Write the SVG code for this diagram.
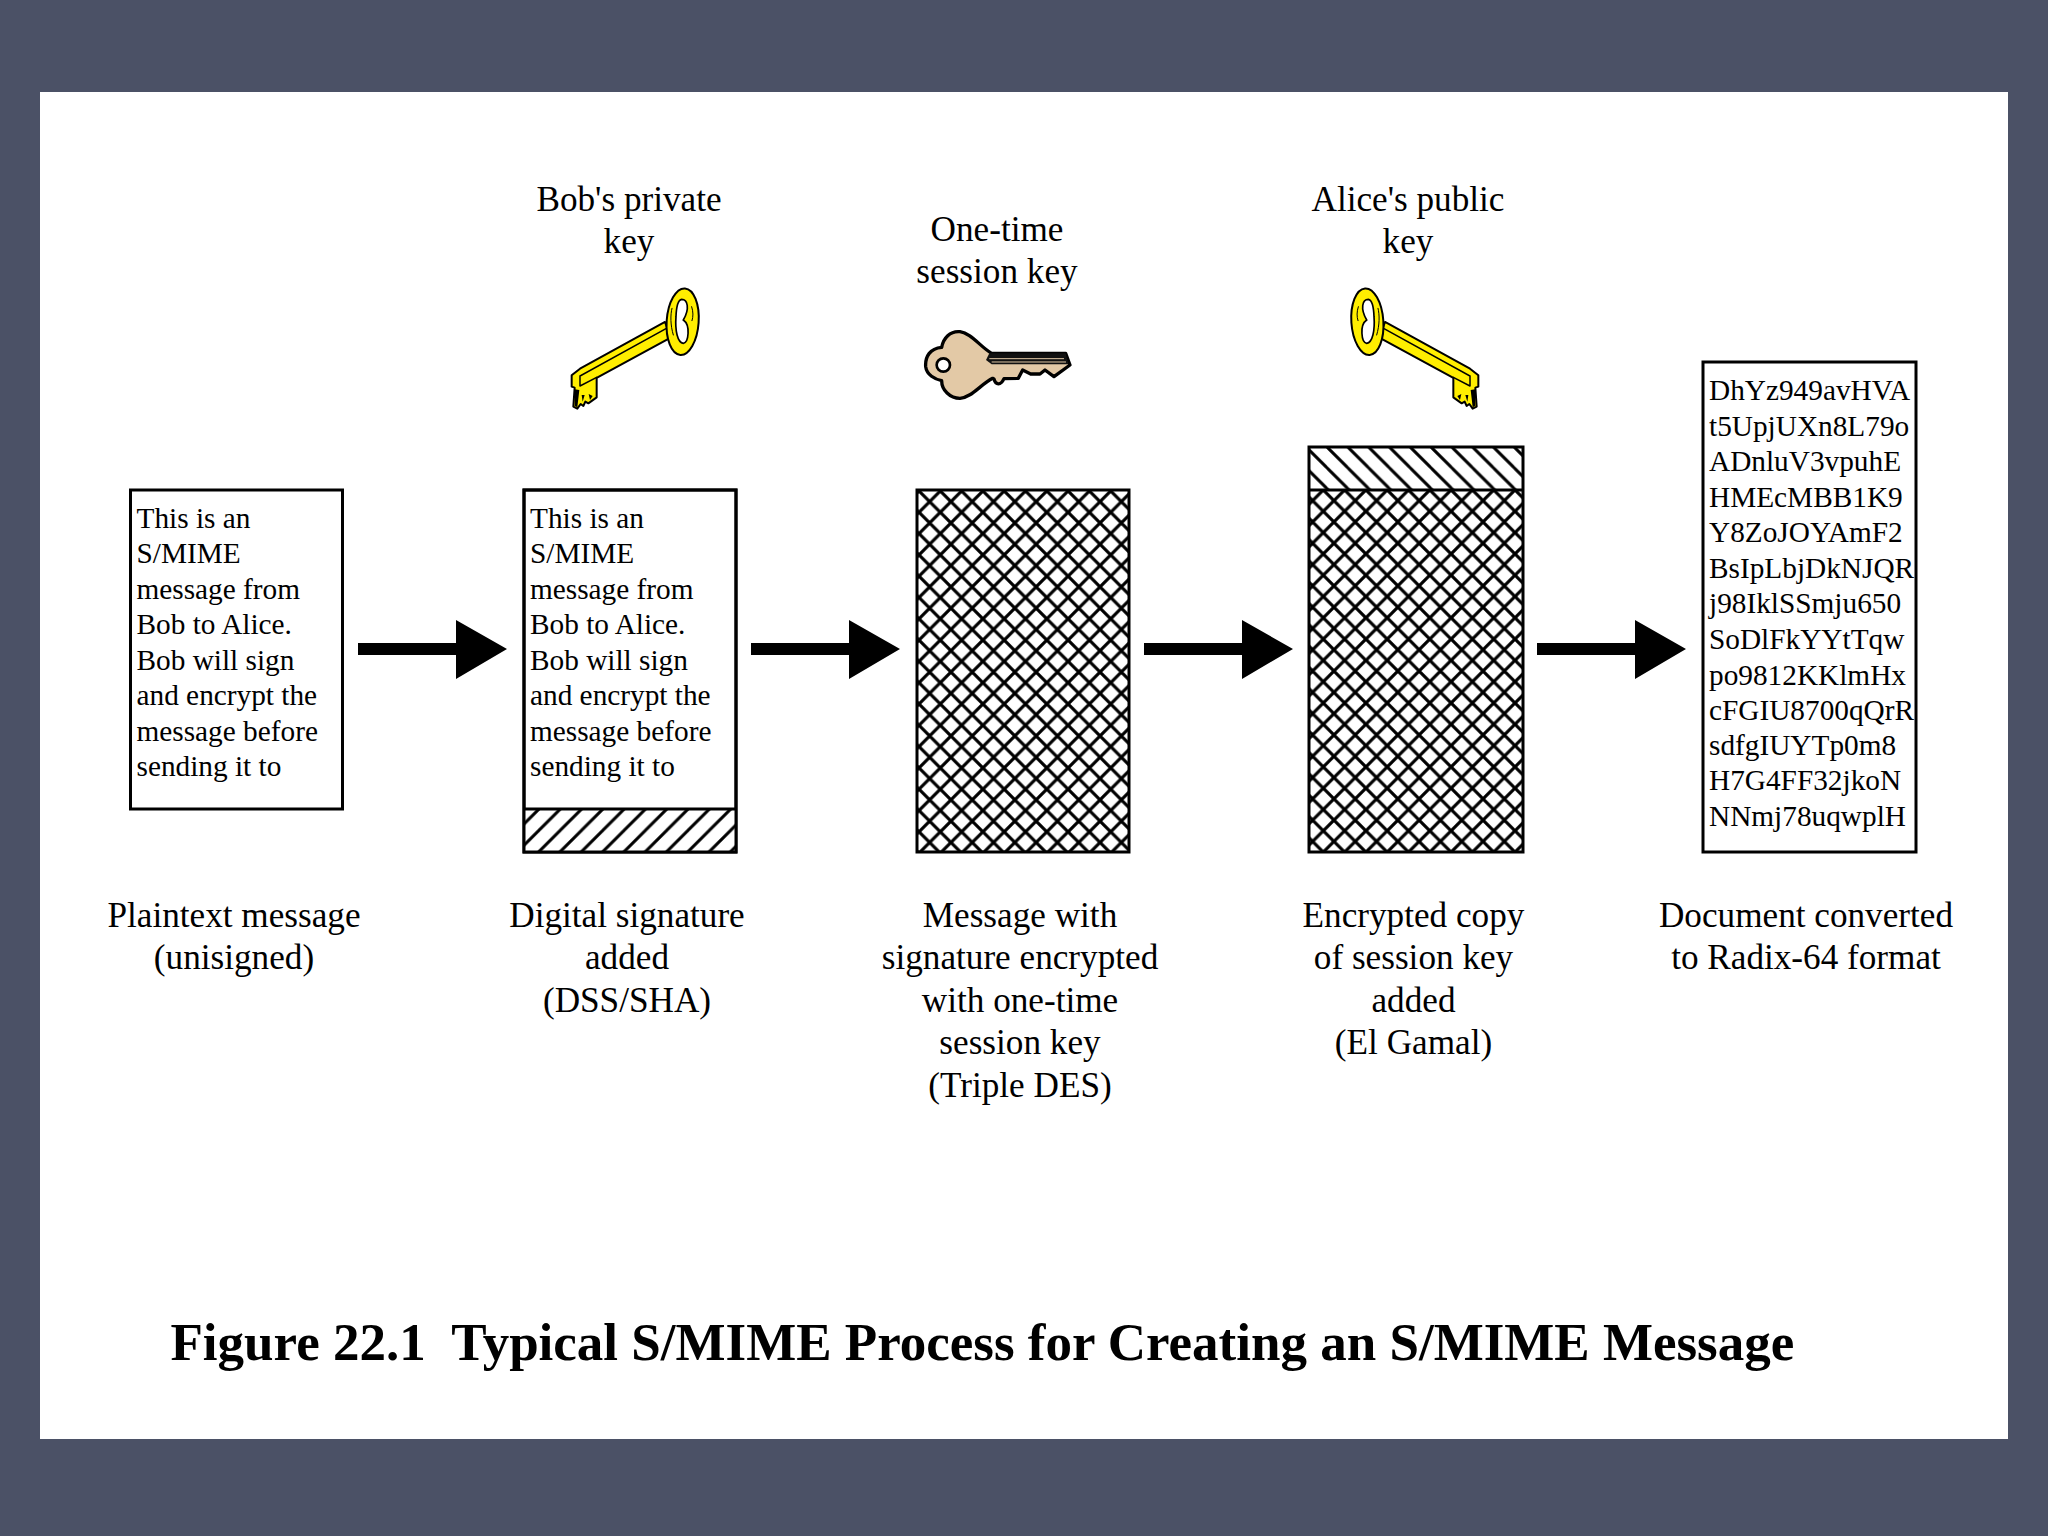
<svg xmlns="http://www.w3.org/2000/svg" width="2048" height="1536" viewBox="0 0 2048 1536">
<style>
text{font-family:"Liberation Serif","Times New Roman",serif;fill:#000}
.b{font-size:29.3px}
.l{font-size:35.2px;text-anchor:middle}
.t{font-size:53px;font-weight:bold;white-space:pre}
.box{fill:#fff;stroke:#000;stroke-width:3}
.o{fill:none;stroke:#000;stroke-width:3}
.k{fill:#ffee00;stroke:#000;stroke-width:6;stroke-linejoin:round}
.kl{fill:none;stroke:#000;stroke-width:4.500;stroke-linecap:round}
</style>
<defs>
<pattern id="cross" patternUnits="userSpaceOnUse" x="919" y="491" width="21.3" height="21.3">
<rect width="21.3" height="21.3" fill="#fff"/>
<path d="M-1-1L22.3 22.3M-1 22.3L22.3-1" stroke="#000" stroke-width="3.2" fill="none"/>
</pattern>
<pattern id="cross2" patternUnits="userSpaceOnUse" x="1323.300" y="490" width="21.3" height="21.3">
<rect width="21.3" height="21.3" fill="#fff"/>
<path d="M-1-1L22.3 22.3M-1 22.3L22.3-1" stroke="#000" stroke-width="3.2" fill="none"/>
</pattern>
<pattern id="back" patternUnits="userSpaceOnUse" x="1327" y="447" width="20.8" height="20.8">
<rect width="20.8" height="20.8" fill="#fff"/>
<path d="M-1-1L21.8 21.8M19.8-1L21.8 1M-1 19.8L1 21.8" stroke="#000" stroke-width="3" fill="none"/>
</pattern>
<pattern id="fwd" patternUnits="userSpaceOnUse" x="539" y="809" width="21.3" height="21.3">
<rect width="21.3" height="21.3" fill="#fff"/>
<path d="M-1 22.3L22.3-1M-1 1L1-1M20.3 22.3L22.3 20.3" stroke="#000" stroke-width="3" fill="none"/>
</pattern>
<g id="yellowkey">
<path class="k" d="M375 156L120 296L95 316L95 350L104 353L100 410L112 416L122 402L130 408L136 395L145 400L170 382L170 324L392 203Z"/>
<path d="M118 352L165 331L165 378L145 392L140 380L128 392L122 378L114 405Z" fill="#ffee00"/>
<path class="kl" d="M120 348L120 318L378 176M120 348L170 322"/>
<path d="M104 358L104 408L112 412L118 360ZM125 375L128 395L134 375ZM146 372L150 390L158 378Z" fill="#000"/>
<ellipse class="k" cx="428" cy="155" rx="48" ry="100" transform="rotate(4 428 155)"/>
<path d="M425 88C443 88 450 115 430 150C452 165 446 218 430 220C412 218 405 180 408 140C409 112 414 90 425 88Z" fill="#fff" stroke="#000" stroke-width="5"/>
<path class="kl" d="M396 115C391 135 391 165 400 195M455 110C460 125 460 140 456 152" style="stroke-width:3"/>
</g>
</defs>

<rect width="2048" height="1536" fill="#4b5166"/>
<rect x="40" y="92" width="1968" height="1347" fill="#fff"/>

<g id="node-plain">
<rect class="box" x="130.500" y="490" width="212" height="319"/>
<text class="b" x="136.500" y="527.500">This is an</text>
<text class="b" x="136.500" y="563">S/MIME</text>
<text class="b" x="136.500" y="598.500">message from</text>
<text class="b" x="136.500" y="634">Bob to Alice.</text>
<text class="b" x="136.500" y="669.500">Bob will sign</text>
<text class="b" x="136.500" y="705">and encrypt the</text>
<text class="b" x="136.500" y="740.500">message before</text>
<text class="b" x="136.500" y="776">sending it to</text>
<text class="l" x="234" y="926.500">Plaintext message</text>
<text class="l" x="234" y="969">(unisigned)</text>
</g>

<g id="node-signed">
<rect class="box" x="524" y="490" width="212" height="362"/>
<rect x="524" y="809" width="212" height="43" fill="url(#fwd)"/>
<rect class="o" x="524" y="490" width="212" height="362"/>
<path class="o" d="M524 809H736"/>
<text class="b" x="530" y="527.500">This is an</text>
<text class="b" x="530" y="563">S/MIME</text>
<text class="b" x="530" y="598.500">message from</text>
<text class="b" x="530" y="634">Bob to Alice.</text>
<text class="b" x="530" y="669.500">Bob will sign</text>
<text class="b" x="530" y="705">and encrypt the</text>
<text class="b" x="530" y="740.500">message before</text>
<text class="b" x="530" y="776">sending it to</text>
<text class="l" x="627" y="926.500">Digital signature</text>
<text class="l" x="627" y="969">added</text>
<text class="l" x="627" y="1011.500">(DSS/SHA)</text>
</g>

<g id="node-private-key">
<text class="l" x="629" y="210.500">Bob's private</text>
<text class="l" x="629" y="252.500">key</text>
<use href="#yellowkey" transform="translate(540 270) scale(.3333)"/>
</g>

<g id="node-encrypted">
<rect x="917" y="490" width="212" height="362" fill="url(#cross)"/>
<rect class="o" x="917" y="490" width="212" height="362"/>
<text class="l" x="1020" y="926.500">Message with</text>
<text class="l" x="1020" y="969">signature encrypted</text>
<text class="l" x="1020" y="1011.500">with one-time</text>
<text class="l" x="1020" y="1054">session key</text>
<text class="l" x="1020" y="1096.500">(Triple DES)</text>
</g>

<g id="node-session-key">
<text class="l" x="997" y="240.500">One-time</text>
<text class="l" x="997" y="282.500">session key</text>
<g transform="translate(900 310) scale(.3333)">
<path d="M275 130C240 110 215 70 180 65C150 62 130 85 125 112C90 115 75 140 77 170C80 195 105 208 125 212C125 240 150 265 180 265C215 262 240 225 278 205L282 207C287 225 302 228 312 206L355 205L368 180L392 192L420 192L435 180L462 200L510 165L497 130Z" fill="#e3c9a6" stroke="#000" stroke-width="10" stroke-linejoin="round"/>
<path d="M268 130H497L505 163H275L258 150Z" fill="#111"/>
<path d="M268 146H492M275 156H498" stroke="#e3c9a6" stroke-width="3" fill="none"/>
<circle cx="130" cy="165" r="20" fill="#fff" stroke="#000" stroke-width="8"/>
</g>
</g>

<g id="node-copy">
<rect x="1309" y="447" width="214" height="43" fill="url(#back)"/>
<rect x="1309" y="490" width="214" height="362" fill="url(#cross2)"/>
<rect class="o" x="1309" y="447" width="214" height="405"/>
<path class="o" d="M1309 490H1523"/>
<text class="l" x="1413.500" y="926.500">Encrypted copy</text>
<text class="l" x="1413.500" y="969">of session key</text>
<text class="l" x="1413.500" y="1011.500">added</text>
<text class="l" x="1413.500" y="1054">(El Gamal)</text>
</g>

<g id="node-public-key">
<text class="l" x="1408" y="210.500">Alice's public</text>
<text class="l" x="1408" y="252.500">key</text>
<use href="#yellowkey" transform="translate(1510 270) scale(-.3333 .3333)"/>
</g>

<g id="node-radix">
<rect class="box" x="1703" y="362" width="213" height="490"/>
<text class="b" x="1709" y="400">DhYz949avHVA</text>
<text class="b" x="1709" y="435.500">t5UpjUXn8L79o</text>
<text class="b" x="1709" y="471">ADnluV3vpuhE</text>
<text class="b" x="1709" y="506.500">HMEcMBB1K9</text>
<text class="b" x="1709" y="542">Y8ZoJOYAmF2</text>
<text class="b" x="1709" y="577.500">BsIpLbjDkNJQR</text>
<text class="b" x="1709" y="613">j98IklSSmju650</text>
<text class="b" x="1709" y="648.500">SoDlFkYYtTqw</text>
<text class="b" x="1709" y="684.500">po9812KKlmHx</text>
<text class="b" x="1709" y="720">cFGIU8700qQrR</text>
<text class="b" x="1709" y="755">sdfgIUYTp0m8</text>
<text class="b" x="1709" y="790">H7G4FF32jkoN</text>
<text class="b" x="1709" y="826">NNmj78uqwplH</text>
<text class="l" x="1806" y="926.500">Document converted</text>
<text class="l" x="1806" y="969">to Radix-64 format</text>
</g>

<g id="connectors">
<path d="M358 643H456V620L507 649L456 679V655H358Z"/>
<path d="M751 643H849V620L900 649L849 679V655H751Z"/>
<path d="M1144 643H1242V620L1293 649L1242 679V655H1144Z"/>
<path d="M1537 643H1635V620L1686 649L1635 679V655H1537Z"/>
</g>

<text class="t" x="170.500" y="1360">Figure 22.1  Typical S/MIME Process for Creating an S/MIME Message</text>
</svg>
